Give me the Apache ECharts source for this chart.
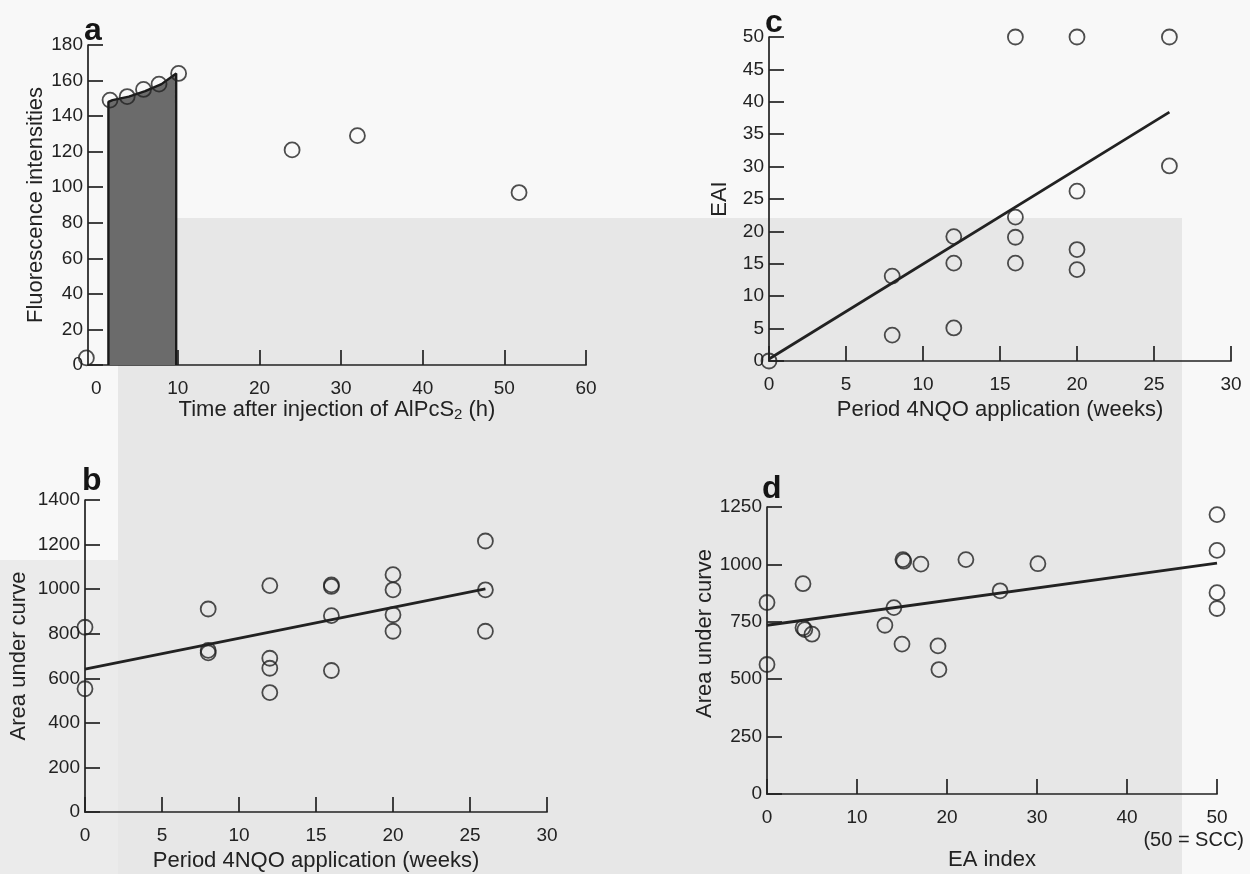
<!DOCTYPE html>
<html>
<head>
<meta charset="utf-8">
<script src="https://cdn.jsdelivr.net/npm/echarts@6/dist/echarts.min.js"></script>
<style>html,body{margin:0;padding:0;background:#f7f7f7;}#chart{width:1250px;height:874px;}</style>
</head>
<body>
<div id="chart"></div>
<script>
// Panel a: fluorescence vs time
const aTime = [-1.2, 1.7, 3.8, 5.8, 7.7, 10.1, 24.0, 32.0, 51.8];
const aFluor = [4, 149, 151, 155, 158, 164, 121, 129, 97];
const aAreaTime = [1.5, 1.5, 2, 4, 6, 8, 9.8, 9.8];
const aAreaFluor = [0, 148, 149, 151, 154, 158, 164, 0];
const aXLabels = [0, 10, 20, 30, 40, 50, 60];
const aXTicks = [10, 20, 30, 40, 50, 60];

// Panel b: AUC vs period 4NQO
const bWeeks = [0, 0, 8, 8, 8, 12, 12, 12, 12, 16, 16, 16, 16, 20, 20, 20, 20, 26, 26, 26];
const bAUC = [829, 553, 911, 725, 714, 1016, 690, 645, 536, 1019, 1012, 881, 635, 1065, 997, 885, 811, 1216, 997, 811];
const bFitX = [0, 26];
const bFitY = [641, 1001];

// Panel c: EAI vs period 4NQO
const cWeeks = [0, 8, 8, 12, 12, 12, 16, 16, 16, 16, 20, 20, 20, 20, 26, 26];
const cEAI = [0, 13.1, 4, 19.2, 15.1, 5.1, 50, 22.2, 19.1, 15.1, 50, 26.2, 17.2, 14.1, 50, 30.1];
const cFitX = [0, 26];
const cFitY = [0.3, 38.4];

// Panel d: AUC vs EA index
const dEA = [0, 0, 4, 4, 4.2, 5, 13.1, 14.1, 15.1, 15.2, 15, 17.1, 19, 19.1, 22.1, 25.9, 30.1, 50, 50, 50, 50];
const dAUC = [834, 564, 916, 724, 716, 696, 735, 812, 1021, 1014, 653, 1001, 645, 542, 1021, 885, 1003, 1217, 1061, 877, 808];
const dFitX = [0, 50];
const dFitY = [735, 1006];

const FONT = '"Liberation Sans", Arial, sans-serif';
const INK = '#222222';
const pair = (xs, ys) => xs.map((x, i) => [x, ys[i]]);
const plain = v => String(v);

function xAx(idx, min, max, interval, name, gap, extra) {
  return Object.assign({
    gridIndex: idx, type: 'value', min: min, max: max, interval: interval,
    name: name, nameLocation: 'middle', nameGap: gap,
    nameTextStyle: { fontFamily: FONT, fontSize: 22, color: INK },
    axisLine: { show: true, lineStyle: { color: INK, width: 1.7 } },
    axisTick: { show: true, inside: true, length: 15, lineStyle: { color: INK, width: 1.7 } },
    axisLabel: { fontFamily: FONT, fontSize: 19, color: INK, margin: 14, formatter: plain },
    splitLine: { show: false }
  }, extra || {});
}
function yAx(idx, min, max, interval, name, gap, extra) {
  return Object.assign({
    gridIndex: idx, type: 'value', min: min, max: max, interval: interval,
    name: name, nameLocation: 'middle', nameGap: gap,
    nameTextStyle: { fontFamily: FONT, fontSize: 22, color: INK },
    axisLine: { show: true, onZero: false, lineStyle: { color: INK, width: 1.7 } },
    axisTick: { show: true, inside: true, length: 15, lineStyle: { color: INK, width: 1.7 } },
    axisLabel: { fontFamily: FONT, fontSize: 19, color: INK, margin: 5, formatter: plain },
    splitLine: { show: false }
  }, extra || {});
}
function scat(idx, data) {
  return {
    type: 'scatter', xAxisIndex: idx, yAxisIndex: idx, data: data, clip: false,
    symbol: 'circle', symbolSize: 15, z: 5,
    itemStyle: { color: 'rgba(0,0,0,0)', borderColor: INK, borderWidth: 1.8 }
  };
}
function fit(idx, data) {
  return {
    type: 'line', xAxisIndex: idx, yAxisIndex: idx, data: data, symbol: 'none',
    lineStyle: { color: INK, width: 2.8 }, z: 4
  };
}

const chart = echarts.init(document.getElementById('chart'), null, { renderer: 'canvas' });
chart.setOption({
  backgroundColor: '#f8f8f8',
  animation: false,
  graphic: [
    { type: 'rect', z: -100, shape: { x: 118, y: 218, width: 1064, height: 656 }, style: { fill: '#e7e7e7' } },
    { type: 'rect', z: -100, shape: { x: 0, y: 560, width: 118, height: 314 }, style: { fill: '#ebebeb' } },
    { type: 'text', left: 84, top: 15, style: { text: 'a', font: 'bold 32px ' + FONT, fill: '#151515' } },
    { type: 'text', left: 82, top: 465, style: { text: 'b', font: 'bold 32px ' + FONT, fill: '#151515' } },
    { type: 'text', left: 765, top: 7, style: { text: 'c', font: 'bold 32px ' + FONT, fill: '#151515' } },
    { type: 'text', left: 762, top: 473, style: { text: 'd', font: 'bold 32px ' + FONT, fill: '#151515' } },
    { type: 'text', right: 6, top: 830, style: { text: '(50 = SCC)', font: '20px ' + FONT, fill: INK } }
  ],
  grid: [
    { left: 88, top: 45, width: 498, height: 320 },
    { left: 85, top: 500, width: 462, height: 312 },
    { left: 769, top: 37, width: 462, height: 324 },
    { left: 767, top: 507, width: 450, height: 287 }
  ],
  xAxis: [
    xAx(0, -1, 60, null, 'Time after injection of AlPcS{sub|2} (h)', 29, {
      nameTextStyle: { fontFamily: FONT, fontSize: 22, color: INK,
        rich: { sub: { fontFamily: FONT, fontSize: 15, color: INK, verticalAlign: 'bottom', padding: [10, 0, 0, 0] } } },
      axisTick: { show: true, inside: true, length: 15, customValues: aXTicks, lineStyle: { color: INK, width: 1.7 } },
      axisLabel: { fontFamily: FONT, fontSize: 19, color: INK, margin: 14, customValues: aXLabels, formatter: plain }
    }),
    xAx(1, 0, 30, 5, 'Period 4NQO application (weeks)', 38),
    xAx(2, 0, 30, 5, 'Period 4NQO application (weeks)', 38),
    xAx(3, 0, 50, 10, 'EA index', 55)
  ],
  yAxis: [
    yAx(0, 0, 180, 20, 'Fluorescence intensities', 37),
    yAx(1, 0, 1400, 200, 'Area under curve', 55),
    yAx(2, 0, 50, 5, 'EAI', 38),
    yAx(3, 0, 1250, 250, 'Area under curve', 46, {
      nameTextStyle: { fontFamily: FONT, fontSize: 22, color: INK, padding: [0, 0, 0, 34] }
    })
  ],
  series: [
    {
      type: 'line', xAxisIndex: 0, yAxisIndex: 0, data: pair(aAreaTime, aAreaFluor),
      symbol: 'none', smooth: false, z: 3,
      lineStyle: { color: '#1a1a1a', width: 2.4 },
      areaStyle: { color: '#6b6b6b', opacity: 1 }
    },
    scat(0, pair(aTime, aFluor)),
    scat(1, pair(bWeeks, bAUC)),
    fit(1, pair(bFitX, bFitY)),
    scat(2, pair(cWeeks, cEAI)),
    fit(2, pair(cFitX, cFitY)),
    scat(3, pair(dEA, dAUC)),
    fit(3, pair(dFitX, dFitY))
  ]
});
</script>
</body>
</html>
